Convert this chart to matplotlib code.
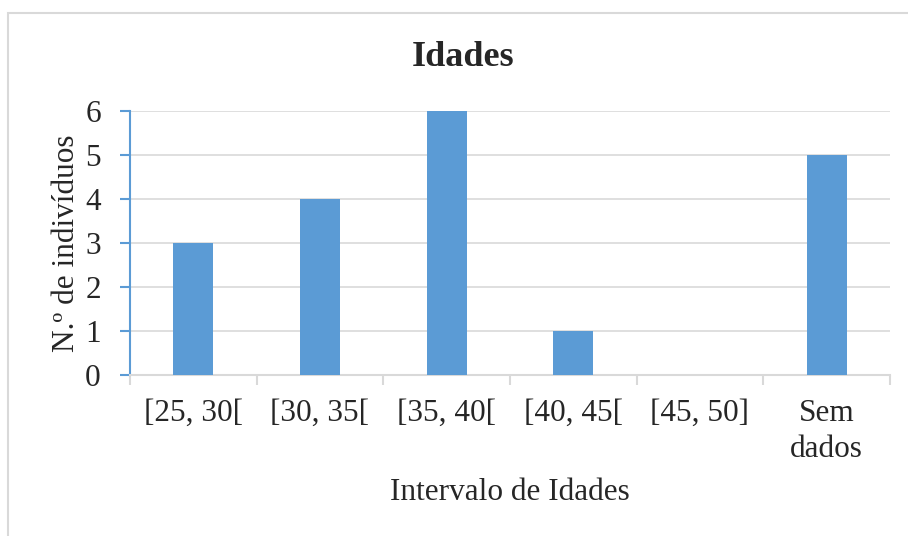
# Gráfico de barras: número de indivíduos por intervalo de idades

import matplotlib.pyplot as plt
from matplotlib.patches import Rectangle

# Dados
intervalos = ['[25, 30[', '[30, 35[', '[35, 40[', '[40, 45[', '[45, 50]', 'Sem\ndados']
individuos = [3, 4, 6, 1, 0, 5]

azul = '#5B9BD5'
cinza = '#D9D9D9'

plt.rcParams['font.family'] = ['Liberation Serif', 'DejaVu Serif']

fig = plt.figure(figsize=(9.08, 5.36), dpi=100)
ax = fig.add_axes([130 / 908, 1 - 375 / 536, 760 / 908, 264 / 536])

x = range(len(intervalos))
ax.bar(x, individuos, width=0.316, color=azul, zorder=3)

ax.set_xlim(-0.5, len(intervalos) - 0.5)
ax.set_ylim(0, 6)
ax.set_yticks(range(0, 7))

# Grelha horizontal
ax.grid(axis='y', color=cinza, linewidth=1.2, zorder=0)
ax.grid(axis='x', visible=False)

for lado in ['top', 'right']:
    ax.spines[lado].set_visible(False)
ax.spines['left'].set_color(azul)
ax.spines['left'].set_linewidth(1.5)
ax.spines['bottom'].set_color(cinza)
ax.spines['bottom'].set_linewidth(1.5)

# Rótulos do eixo x no centro, marcas nos limites das categorias
ax.set_xticks(list(x))
ax.set_xticklabels(intervalos, fontsize=22.5, linespacing=1.35)
ax.set_xticks([i - 0.5 for i in range(len(intervalos) + 1)], minor=True)
ax.tick_params(axis='x', which='major', length=0, pad=17, colors='#262626')
ax.tick_params(axis='x', which='minor', length=7, width=1.5, color=cinza)

ax.tick_params(axis='y', which='major', length=7, width=1.5, color=azul,
               labelsize=22.5, labelcolor='#262626', pad=14)

ax.set_xlabel('Intervalo de Idades', fontsize=22.5, color='#262626')
ax.xaxis.set_label_coords(0.5, (375 - 493) / 264)
ax.xaxis.label.set_va('center')

ax.set_ylabel('N.º de indivíduos', fontsize=22.5, color='#262626')
ax.yaxis.set_label_coords((66 - 130) / 760, 0.5)
ax.yaxis.label.set_va('center')

fig.text(463.5 / 908, 1 - 58 / 536, 'Idades', fontsize=26, fontweight='bold',
         ha='center', va='center', color='#262626')

# Moldura da área do gráfico
fig.patches.append(Rectangle((8 / 908, -0.05), 1.2, 1 - 13 / 536 + 0.05,
                             transform=fig.transFigure, fill=False,
                             edgecolor=cinza, linewidth=1.5))

fig.savefig('out.png', dpi=100)
